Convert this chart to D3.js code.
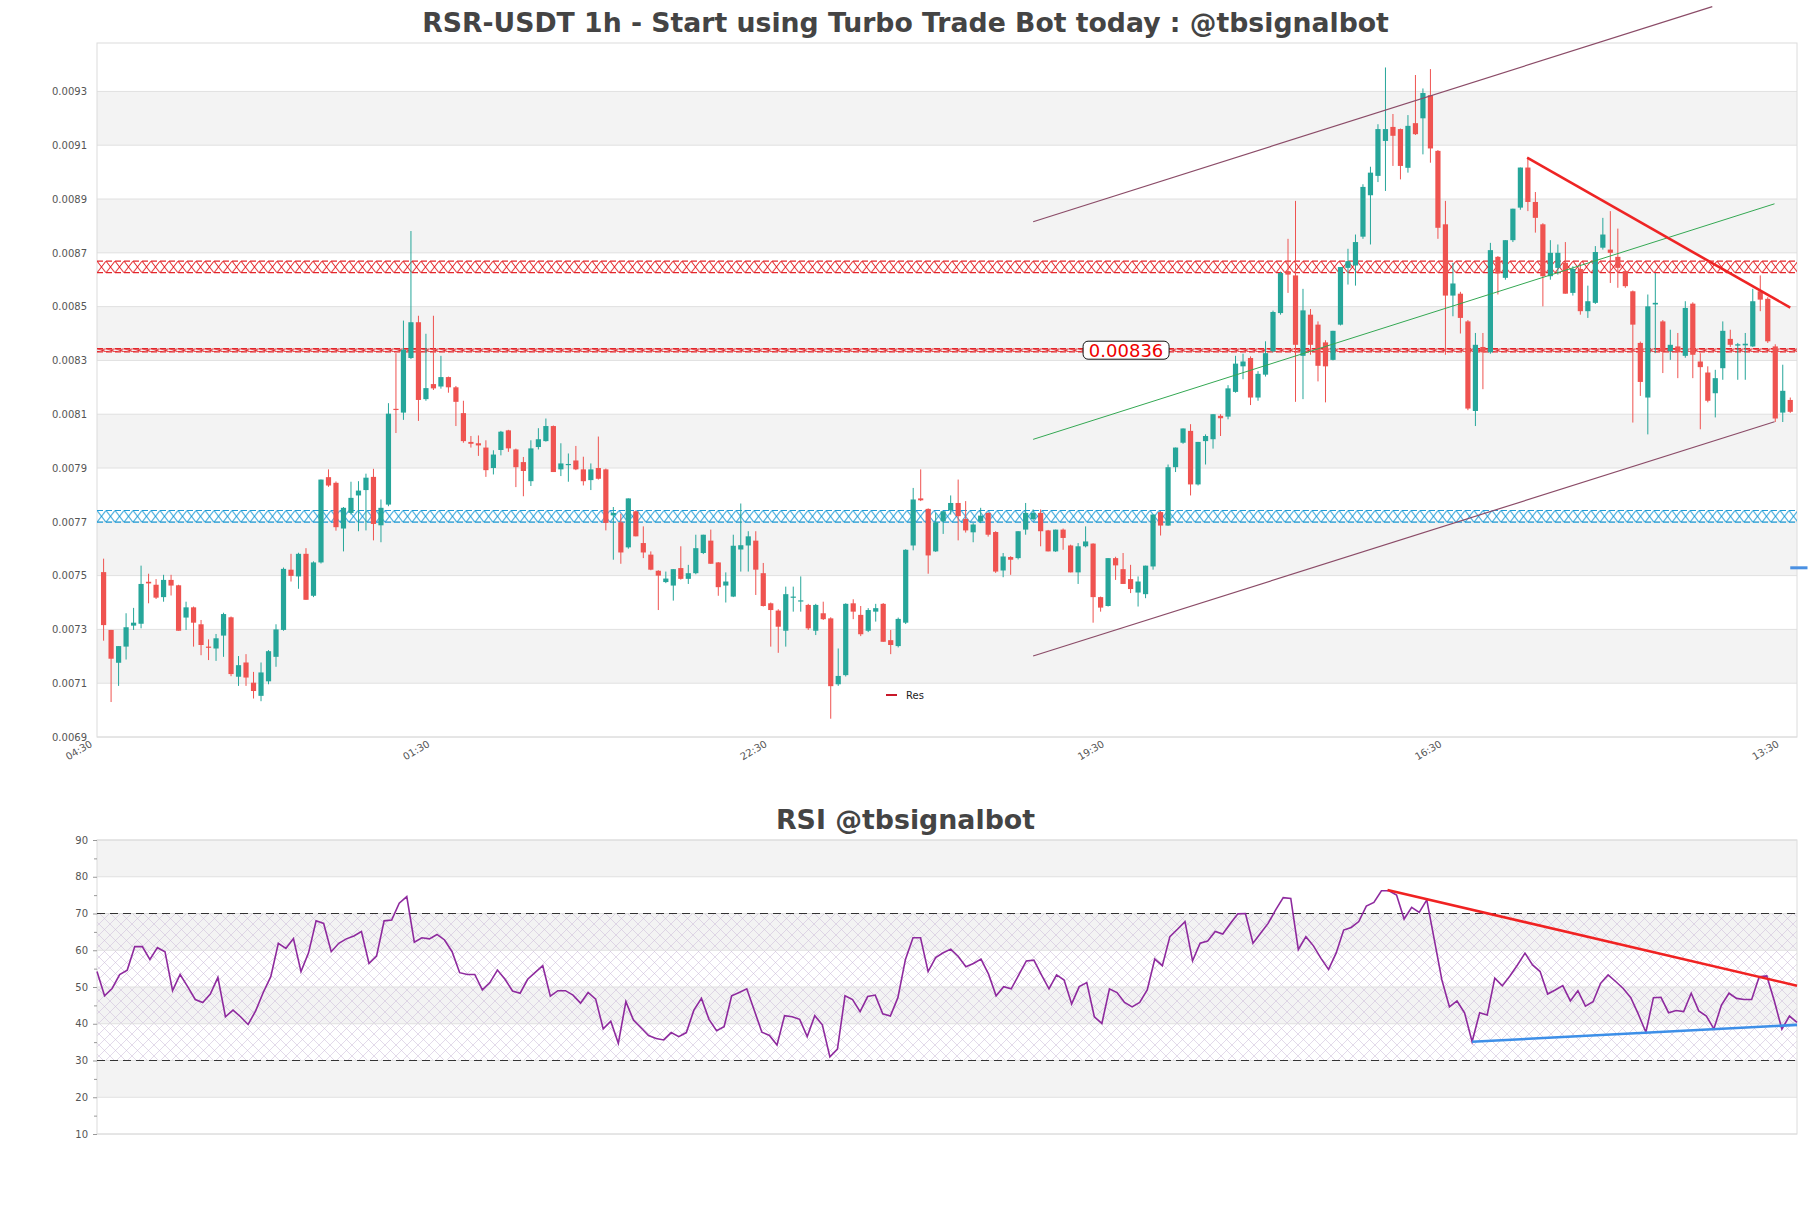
<!DOCTYPE html>
<html><head><meta charset="utf-8">
<script src="https://cdn.jsdelivr.net/npm/d3@7"></script>
<style>
body{margin:0;background:#fff}
svg{display:block}
text{font-family:"DejaVu Sans",sans-serif}
</style>
</head><body>
<svg id="chart" width="1811" height="1208"></svg>
<script>
// ---------------- DATA ----------------
const timeLabels = ["04:30","01:30","22:30","19:30","16:30","13:30"];
const timeTickIndex = [-1, 44, 89, 134, 179, 224];

const open = [
0.007513,0.007298,0.007176,0.007236,0.007314,0.007321,0.007477,0.007466,0.007420,0.007484,
0.007464,0.007344,0.007382,0.007319,0.007236,0.007229,0.007277,0.007345,0.007124,0.007177,
0.007102,0.007053,0.007107,0.007198,0.007298,0.007522,0.007497,0.007581,0.007425,0.007549,
0.007866,0.007845,0.007675,0.007733,0.007798,0.007818,0.007867,0.007687,0.007764,0.008120,
0.008106,0.008309,0.008442,0.008156,0.008212,0.008203,0.008238,0.008200,0.008104,0.007997,
0.007992,0.007976,0.007900,0.007967,0.008040,0.007969,0.007922,0.007851,0.007978,0.008000,
0.008056,0.007895,0.007912,0.007928,0.007895,0.007855,0.007900,0.007895,0.007724,0.007698,
0.007605,0.007739,0.007621,0.007578,0.007518,0.007476,0.007463,0.007528,0.007488,0.007509,
0.007584,0.007630,0.007549,0.007463,0.007422,0.007597,0.007612,0.007630,0.007509,0.007397,
0.007370,0.007295,0.007418,0.007404,0.007391,0.007295,0.007360,0.007341,0.007096,0.007130,
0.007397,0.007354,0.007295,0.007366,0.007395,0.007260,0.007238,0.007325,0.007612,0.007787,
0.007748,0.007590,0.007702,0.007742,0.007770,0.007711,0.007661,0.007702,0.007733,0.007662,
0.007519,0.007569,0.007565,0.007671,0.007710,0.007733,0.007668,0.007590,0.007671,0.007612,
0.007512,0.007609,0.007619,0.007420,0.007387,0.007565,0.007524,0.007487,0.007437,0.007431,
0.007534,0.007736,0.007686,0.007903,0.007994,0.008038,0.007839,0.008000,0.008007,0.008094,
0.008091,0.008183,0.008278,0.008309,0.008162,0.008247,0.008334,0.008476,0.008632,0.008616,
0.008317,0.008470,0.008433,0.008367,0.008302,0.008433,0.008644,0.008653,0.008760,0.008914,
0.008986,0.009116,0.009168,0.009160,0.009016,0.009182,0.009200,0.009286,0.009079,0.008806,
0.008541,0.008548,0.008445,0.008112,0.008350,0.008330,0.008685,0.008607,0.008747,0.008868,
0.009017,0.008889,0.008806,0.008613,0.008644,0.008663,0.008551,0.008640,0.008483,0.008514,
0.008719,0.008712,0.008685,0.008632,0.008557,0.008365,0.008162,0.008508,0.008445,0.008334,
0.008352,0.008317,0.008511,0.008296,0.008255,0.008178,0.008271,0.008380,0.008355,0.008356,
0.008352,0.008557,0.008529,0.008352,0.008106,0.008153
];
const high = [
0.007563,0.007298,0.007238,0.007360,0.007380,0.007537,0.007507,0.007487,0.007503,0.007503,
0.007466,0.007403,0.007385,0.007335,0.007263,0.007283,0.007362,0.007348,0.007201,0.007208,
0.007142,0.007177,0.007223,0.007319,0.007530,0.007581,0.007585,0.007602,0.007553,0.007857,
0.007895,0.007850,0.007755,0.007849,0.007851,0.007879,0.007897,0.007783,0.008141,0.008327,
0.008448,0.008781,0.008466,0.008399,0.008466,0.008317,0.008240,0.008205,0.008150,0.008019,
0.008021,0.008003,0.007966,0.008038,0.008042,0.007972,0.007941,0.008003,0.008048,0.008084,
0.008058,0.007992,0.007954,0.007982,0.007942,0.007917,0.008017,0.007898,0.007755,0.007730,
0.007787,0.007742,0.007683,0.007590,0.007520,0.007515,0.007524,0.007609,0.007540,0.007652,
0.007652,0.007671,0.007550,0.007512,0.007652,0.007768,0.007665,0.007665,0.007547,0.007400,
0.007375,0.007459,0.007459,0.007497,0.007395,0.007395,0.007403,0.007345,0.007229,0.007397,
0.007412,0.007387,0.007379,0.007395,0.007398,0.007298,0.007344,0.007598,0.007826,0.007895,
0.007750,0.007733,0.007739,0.007798,0.007857,0.007777,0.007695,0.007752,0.007735,0.007665,
0.007584,0.007572,0.007665,0.007770,0.007746,0.007746,0.007670,0.007671,0.007675,0.007615,
0.007621,0.007683,0.007620,0.007422,0.007565,0.007570,0.007584,0.007540,0.007497,0.007537,
0.007727,0.007740,0.007913,0.007976,0.008047,0.008063,0.007997,0.008025,0.008100,0.008100,
0.008208,0.008317,0.008325,0.008315,0.008260,0.008371,0.008485,0.008630,0.008752,0.008893,
0.008566,0.008491,0.008445,0.008375,0.008410,0.008647,0.008715,0.008768,0.008955,0.009020,
0.009178,0.009389,0.009216,0.009162,0.009212,0.009361,0.009311,0.009383,0.009082,0.008893,
0.008663,0.008555,0.008450,0.008402,0.008402,0.008737,0.008688,0.008747,0.008864,0.009017,
0.009054,0.008926,0.008810,0.008747,0.008731,0.008740,0.008650,0.008663,0.008578,0.008725,
0.008830,0.008855,0.008790,0.008635,0.008560,0.008370,0.008545,0.008625,0.008450,0.008414,
0.008402,0.008520,0.008516,0.008327,0.008278,0.008265,0.008445,0.008414,0.008365,0.008402,
0.008566,0.008616,0.008535,0.008360,0.008284,0.008162
];
const low = [
0.007258,0.007030,0.007090,0.007188,0.007298,0.007304,0.007397,0.007413,0.007403,0.007426,
0.007295,0.007298,0.007236,0.007204,0.007186,0.007183,0.007198,0.007126,0.007090,0.007090,
0.007043,0.007033,0.007096,0.007161,0.007295,0.007478,0.007451,0.007410,0.007420,0.007545,
0.007830,0.007667,0.007590,0.007727,0.007665,0.007668,0.007631,0.007624,0.007758,0.008030,
0.008079,0.008305,0.008075,0.008150,0.008190,0.008195,0.008180,0.008056,0.007994,0.007976,
0.007945,0.007867,0.007876,0.007947,0.007960,0.007829,0.007795,0.007833,0.007969,0.007998,
0.007885,0.007870,0.007849,0.007892,0.007835,0.007818,0.007857,0.007668,0.007559,0.007544,
0.007600,0.007646,0.007565,0.007520,0.007372,0.007472,0.007407,0.007485,0.007469,0.007505,
0.007580,0.007544,0.007425,0.007400,0.007420,0.007515,0.007515,0.007428,0.007385,0.007236,
0.007213,0.007236,0.007366,0.007366,0.007298,0.007279,0.007335,0.006968,0.007090,0.007125,
0.007338,0.007275,0.007290,0.007329,0.007254,0.007208,0.007233,0.007320,0.007594,0.007777,
0.007507,0.007588,0.007655,0.007727,0.007631,0.007660,0.007624,0.007695,0.007645,0.007510,
0.007494,0.007503,0.007560,0.007652,0.007705,0.007609,0.007590,0.007588,0.007596,0.007512,
0.007469,0.007605,0.007325,0.007366,0.007385,0.007484,0.007469,0.007435,0.007385,0.007416,
0.007522,0.007649,0.007685,0.007885,0.007990,0.007798,0.007835,0.007913,0.007972,0.008019,
0.008081,0.008180,0.008230,0.008134,0.008150,0.008240,0.008330,0.008470,0.008551,0.008146,
0.008156,0.008321,0.008222,0.008144,0.008300,0.008430,0.008582,0.008578,0.008752,0.008731,
0.008963,0.008930,0.009023,0.008973,0.008998,0.009138,0.009066,0.009035,0.008752,0.008321,
0.008464,0.008400,0.008115,0.008056,0.008193,0.008325,0.008545,0.008600,0.008740,0.008860,
0.008855,0.008775,0.008501,0.008600,0.008619,0.008548,0.008541,0.008470,0.008458,0.008510,
0.008712,0.008588,0.008570,0.008570,0.008069,0.008168,0.008025,0.008327,0.008253,0.008302,
0.008234,0.008310,0.008234,0.008044,0.008144,0.008088,0.008228,0.008350,0.008228,0.008228,
0.008350,0.008483,0.008365,0.008071,0.008071,0.008105
];
const close = [
0.007316,0.007191,0.007238,0.007308,0.007325,0.007469,0.007471,0.007418,0.007484,0.007463,
0.007295,0.007382,0.007325,0.007242,0.007232,0.007267,0.007357,0.007134,0.007167,0.007121,
0.007071,0.007140,0.007219,0.007300,0.007525,0.007499,0.007581,0.007410,0.007549,0.007857,
0.007835,0.007680,0.007752,0.007789,0.007816,0.007864,0.007692,0.007752,0.008102,0.008117,
0.008340,0.008442,0.008153,0.008197,0.008196,0.008238,0.008200,0.008146,0.008000,0.007990,
0.007984,0.007892,0.007950,0.008035,0.007973,0.007903,0.007889,0.007973,0.008007,0.008056,
0.007885,0.007917,0.007915,0.007895,0.007851,0.007895,0.007860,0.007696,0.007733,0.007586,
0.007787,0.007646,0.007586,0.007522,0.007500,0.007489,0.007524,0.007488,0.007509,0.007602,
0.007652,0.007544,0.007457,0.007478,0.007611,0.007613,0.007646,0.007522,0.007387,0.007372,
0.007310,0.007431,0.007422,0.007408,0.007304,0.007391,0.007338,0.007089,0.007127,0.007395,
0.007366,0.007282,0.007372,0.007379,0.007254,0.007242,0.007339,0.007596,0.007783,0.007780,
0.007575,0.007698,0.007739,0.007770,0.007721,0.007668,0.007690,0.007723,0.007652,0.007515,
0.007571,0.007559,0.007665,0.007733,0.007733,0.007665,0.007590,0.007671,0.007640,0.007512,
0.007609,0.007627,0.007420,0.007381,0.007565,0.007538,0.007469,0.007450,0.007478,0.007537,
0.007727,0.007686,0.007903,0.007976,0.008047,0.007839,0.007997,0.008019,0.008100,0.008085,
0.008196,0.008288,0.008296,0.008162,0.008250,0.008327,0.008480,0.008625,0.008619,0.008358,
0.008486,0.008358,0.008280,0.008278,0.008410,0.008647,0.008669,0.008740,0.008945,0.008998,
0.009160,0.009160,0.009135,0.009023,0.009172,0.009141,0.009294,0.009088,0.008793,0.008541,
0.008586,0.008458,0.008121,0.008358,0.008330,0.008710,0.008623,0.008747,0.008864,0.009017,
0.008889,0.008830,0.008613,0.008700,0.008700,0.008548,0.008640,0.008483,0.008520,0.008703,
0.008768,0.008700,0.008644,0.008576,0.008433,0.008220,0.008501,0.008514,0.008334,0.008358,
0.008330,0.008495,0.008321,0.008275,0.008150,0.008234,0.008410,0.008358,0.008360,0.008362,
0.008520,0.008526,0.008371,0.008084,0.008187,0.008109
];

const rsi = [
54.2,47.6,49.6,53.4,54.6,61.0,61.0,57.5,60.7,59.6,
49.0,53.4,50.1,46.6,45.8,48.1,52.6,41.9,43.7,41.9,
39.8,43.5,48.5,52.8,61.9,60.5,63.2,54.2,59.3,68.0,
67.3,59.6,61.9,63.1,63.9,65.1,56.4,58.4,68.0,68.2,
72.8,74.6,62.2,63.4,63.1,64.3,62.8,59.6,53.9,53.4,
53.4,49.2,51.2,54.6,52.1,48.9,48.3,52.1,54.0,55.8,
47.5,49.0,49.0,47.8,45.6,48.5,46.7,38.6,40.7,34.7,
46.0,41.0,38.9,36.8,36.0,35.6,37.6,36.5,37.6,43.7,
46.9,41.2,38.1,39.2,47.6,48.5,49.5,43.6,37.7,36.8,
34.2,42.2,41.9,41.2,36.5,42.2,39.7,31.0,33.1,47.6,
46.6,43.3,47.4,47.8,42.7,42.1,47.1,57.5,63.4,63.4,
54.2,58.0,59.3,60.3,58.3,55.5,56.4,57.6,53.5,47.6,
50.1,49.5,53.3,57.1,57.3,53.3,49.5,53.3,51.9,45.4,
50.1,51.2,41.9,40.1,49.5,48.5,45.8,44.6,45.8,49.2,
57.6,55.8,63.7,65.7,67.8,57.1,61.9,62.5,65.1,64.4,
67.3,69.9,70.0,61.9,64.6,67.3,71.0,74.3,74.1,60.2,
63.7,61.2,57.8,54.8,59.2,65.5,66.2,67.8,72.0,73.0,
76.2,76.2,75.0,68.5,71.7,70.3,73.7,62.8,51.9,44.6,
46.2,43.0,35.1,43.0,42.4,52.4,50.3,53.0,56.0,59.2,
56.0,54.2,48.1,49.2,50.4,46.2,49.0,44.8,46.0,51.0,
53.3,51.5,49.6,47.1,42.6,37.7,47.1,47.2,43.0,43.6,
43.3,48.3,43.5,42.1,38.6,45.1,48.3,46.9,46.6,46.6,
52.8,53.0,46.2,38.5,42.1,40.4
];

const priceTicks = [0.0069,0.0071,0.0073,0.0075,0.0077,0.0079,0.0081,0.0083,0.0085,0.0087,0.0089,0.0091,0.0093];
const rsiTicks = [10,20,30,40,50,60,70,80,90];
const rsiMinorTicks = [15,25,35,45,55,65,75,85];

// horizontal zones [low, high]
const resZoneHigh = [0.008626, 0.008669];
const resZoneMid  = [0.008332, 0.008344];
const supZone     = [0.0076985, 0.007742];
const midLabel = "0.00836";
const midLabelIndex = 136.4;

// trend lines: [index, value]
const channelUpper = [[124, 0.0088154], [214.6, 0.0096154]];
const channelLower = [[124, 0.0072013], [222.9, 0.0080718]];
const channelMid   = [[124, 0.0080065], [222.9, 0.0088822]];
const downTrend    = [[189.9, 0.009054], [225, 0.0084963]];
const blueMarker   = [[225, 0.007529], [227.3, 0.007529]];
const rsiDownTrend = [[170.8, 76.4], [225, 50.35]];
const rsiUpTrend   = [[182, 35.1], [225, 39.7]];
const rsiLevels = [30, 70];

// ---------------- DRAW ----------------
const svg = d3.select("#chart");
const W = 1811;
const P = {left: 97, right: 1797, top: 43, bottom: 737};
const R = {left: 97, right: 1797, top: 840, bottom: 1134};

const x = d3.scaleLinear().domain([-0.88, 225.9]).range([P.left, P.right]);
const y = d3.scaleLinear().domain([0.0069, 0.00948]).range([P.bottom, P.top]);
const xr = d3.scaleLinear().domain([0, 225]).range([R.left, R.right]);
const yr = d3.scaleLinear().domain([10, 90]).range([R.bottom, R.top]);

const defs = svg.append("defs");
function xHatch(id, color, top, h) {
  const p = defs.append("pattern").attr("id", id).attr("patternUnits", "userSpaceOnUse")
    .attr("x", P.left).attr("y", top).attr("width", 9).attr("height", h);
  p.append("path").attr("d", `M0,0L9,${h}M9,0L0,${h}`).attr("stroke", color)
    .attr("stroke-width", 1).attr("fill", "none");
}
const rsiPat = defs.append("pattern").attr("id", "rsiHatch").attr("patternUnits", "userSpaceOnUse")
  .attr("width", 11).attr("height", 11);
rsiPat.append("path").attr("d", "M0,0L11,11M11,0L0,11").attr("stroke", "#cbbcd8")
  .attr("stroke-width", 0.55).attr("fill", "none");

svg.append("rect").attr("width", W).attr("height", 1208).attr("fill", "#fff");

// Titles
svg.append("text").attr("x", 905.5).attr("y", 32).attr("text-anchor", "middle")
  .attr("font-size", 26.7).attr("font-weight", "bold").attr("fill", "#444")
  .text("RSR-USDT 1h - Start using Turbo Trade Bot today : @tbsignalbot");
svg.append("text").attr("x", 905.5).attr("y", 829).attr("text-anchor", "middle")
  .attr("font-size", 26.8).attr("font-weight", "bold").attr("fill", "#444")
  .text("RSI @tbsignalbot");

// ---- main chart background bands ----
const main = svg.append("g");
for (let k = 0; k < priceTicks.length - 1; k++) {
  if (k % 2 === 1) {
    main.append("rect").attr("x", P.left).attr("width", P.right - P.left)
      .attr("y", y(priceTicks[k + 1])).attr("height", y(priceTicks[k]) - y(priceTicks[k + 1]))
      .attr("fill", "#f3f3f3");
  }
}
main.selectAll("line.grid").data(priceTicks).join("line").attr("class", "grid")
  .attr("x1", P.left).attr("x2", P.right).attr("y1", d => y(d)).attr("y2", d => y(d))
  .attr("stroke", "#e0e0e0").attr("stroke-width", 1);
main.append("rect").attr("x", P.left).attr("y", P.top).attr("width", P.right - P.left)
  .attr("height", P.bottom - P.top).attr("fill", "none").attr("stroke", "#dcdcdc");

// y axis
const yAxis = d3.axisLeft(y).tickValues(priceTicks).tickSize(0).tickPadding(10)
  .tickFormat(d3.format(".4f"));
const yg = main.append("g").attr("transform", `translate(${P.left},0)`).call(yAxis);
yg.select(".domain").remove();
yg.selectAll("text").attr("font-size", 10).attr("fill", "#555").attr("font-family", "DejaVu Sans");

// x axis
const xAxis = d3.axisBottom(x).tickValues(timeTickIndex).tickSize(0).tickPadding(0)
  .tickFormat((d, i) => timeLabels[i]);
const xg = main.append("g").attr("transform", `translate(0,${P.bottom})`).call(xAxis);
xg.select(".domain").remove();
xg.selectAll("text").attr("font-size", 10).attr("fill", "#555").attr("font-family", "DejaVu Sans")
  .attr("text-anchor", "end").attr("y", 0).attr("dy", 0)
  .attr("transform", "translate(-3.5,9) rotate(-30)");

// zones
function drawZone(z, color, id) {
  const top = y(z[1]), bot = y(z[0]);
  xHatch(id, color, top, bot - top);
  main.append("rect").attr("x", P.left).attr("width", P.right - P.left)
    .attr("y", top).attr("height", bot - top).attr("fill", `url(#${id})`);
  [top, bot].forEach(v => main.append("line").attr("x1", P.left).attr("x2", P.right)
    .attr("y1", v).attr("y2", v).attr("stroke", color).attr("stroke-width", 1.2)
    .attr("stroke-dasharray", "6,3"));
}
drawZone(resZoneHigh, "#e3262b", "hz1");
drawZone(resZoneMid, "#e3262b", "hz2");
drawZone(supZone, "#1f9bd6", "hz3");

// candles
const idx = d3.range(open.length);
const cg = main.append("g");
cg.selectAll("line.wick").data(idx).join("line").attr("class", "wick")
  .attr("x1", i => x(i)).attr("x2", i => x(i))
  .attr("y1", i => y(high[i])).attr("y2", i => y(low[i]))
  .attr("stroke", i => close[i] >= open[i] ? "#26a69a" : "#ef5350").attr("stroke-width", 1);
cg.selectAll("rect.body").data(idx).join("rect").attr("class", "body")
  .attr("x", i => x(i) - 2.6).attr("width", 5.2)
  .attr("y", i => y(Math.max(open[i], close[i])))
  .attr("height", i => Math.max(1.2, Math.abs(y(open[i]) - y(close[i]))))
  .attr("fill", i => close[i] >= open[i] ? "#26a69a" : "#ef5350");

// trend lines
const tl = d3.line().x(d => x(d[0])).y(d => y(d[1]));
main.append("path").attr("d", tl(channelUpper)).attr("stroke", "#8b4c68").attr("stroke-width", 1.2).attr("fill", "none");
main.append("path").attr("d", tl(channelLower)).attr("stroke", "#8b4c68").attr("stroke-width", 1.2).attr("fill", "none");
main.append("path").attr("d", tl(channelMid)).attr("stroke", "#34a853").attr("stroke-width", 1).attr("fill", "none");
main.append("path").attr("d", tl(downTrend)).attr("stroke", "#ee2424").attr("stroke-width", 2.6).attr("fill", "none");
main.append("path").attr("d", tl(blueMarker)).attr("stroke", "#4a90e2").attr("stroke-width", 3).attr("fill", "none");

// mid zone label
const lx = x(midLabelIndex), ly = y((resZoneMid[0] + resZoneMid[1]) / 2);
main.append("rect").attr("x", lx - 43).attr("y", ly - 9).attr("width", 86).attr("height", 18)
  .attr("rx", 5).attr("fill", "#fff").attr("stroke", "#111").attr("stroke-width", 1);
main.append("text").attr("x", lx).attr("y", ly + 6.5).attr("text-anchor", "middle")
  .attr("font-size", 18).attr("fill", "#e00").text(midLabel);

// legend
main.append("line").attr("x1", 886).attr("x2", 897).attr("y1", 695).attr("y2", 695)
  .attr("stroke", "#c8182a").attr("stroke-width", 2);
main.append("text").attr("x", 906).attr("y", 699).attr("font-size", 10).attr("fill", "#222").text("Res");

// ---- RSI chart ----
const rg = svg.append("g");
for (let k = 0; k < rsiTicks.length - 1; k++) {
  if (k % 2 === 1) {
    rg.append("rect").attr("x", R.left).attr("width", R.right - R.left)
      .attr("y", yr(rsiTicks[k + 1])).attr("height", yr(rsiTicks[k]) - yr(rsiTicks[k + 1]))
      .attr("fill", "#f3f3f3");
  }
}
rg.append("rect").attr("x", R.left).attr("width", R.right - R.left)
  .attr("y", yr(rsiLevels[1])).attr("height", yr(rsiLevels[0]) - yr(rsiLevels[1]))
  .attr("fill", "url(#rsiHatch)");
rg.selectAll("line.grid").data(rsiTicks).join("line").attr("class", "grid")
  .attr("x1", R.left).attr("x2", R.right).attr("y1", d => yr(d)).attr("y2", d => yr(d))
  .attr("stroke", "#e0e0e0");
rg.append("rect").attr("x", R.left).attr("y", R.top).attr("width", R.right - R.left)
  .attr("height", R.bottom - R.top).attr("fill", "none").attr("stroke", "#dcdcdc");

const ryMinor = d3.axisLeft(yr).tickValues(rsiMinorTicks).tickSize(3).tickFormat("");
const rm = rg.append("g").attr("transform", `translate(${R.left},0)`).call(ryMinor);
rm.select(".domain").remove();
rm.selectAll("line").attr("stroke", "#999");
const ryAxis = d3.axisLeft(yr).tickValues(rsiTicks).tickSize(4).tickPadding(5);
const ra = rg.append("g").attr("transform", `translate(${R.left},0)`).call(ryAxis);
ra.select(".domain").remove();
ra.selectAll("line").attr("stroke", "#999");
ra.selectAll("text").attr("font-size", 10).attr("fill", "#555").attr("font-family", "DejaVu Sans");

rg.selectAll("line.lvl").data(rsiLevels).join("line").attr("class", "lvl")
  .attr("x1", R.left).attr("x2", R.right).attr("y1", d => yr(d)).attr("y2", d => yr(d))
  .attr("stroke", "#333").attr("stroke-width", 1.1).attr("stroke-dasharray", "8,5");

const rl = d3.line().x((d, i) => xr(i)).y(d => yr(d));
rg.append("path").attr("d", rl(rsi)).attr("stroke", "#8e2a9e").attr("stroke-width", 1.6).attr("fill", "none");

const rtl = d3.line().x(d => xr(d[0])).y(d => yr(d[1]));
rg.append("path").attr("d", rtl(rsiDownTrend)).attr("stroke", "#f02222").attr("stroke-width", 2.6).attr("fill", "none");
rg.append("path").attr("d", rtl(rsiUpTrend)).attr("stroke", "#3d8fe8").attr("stroke-width", 2.6).attr("fill", "none");
</script>
</body></html>
